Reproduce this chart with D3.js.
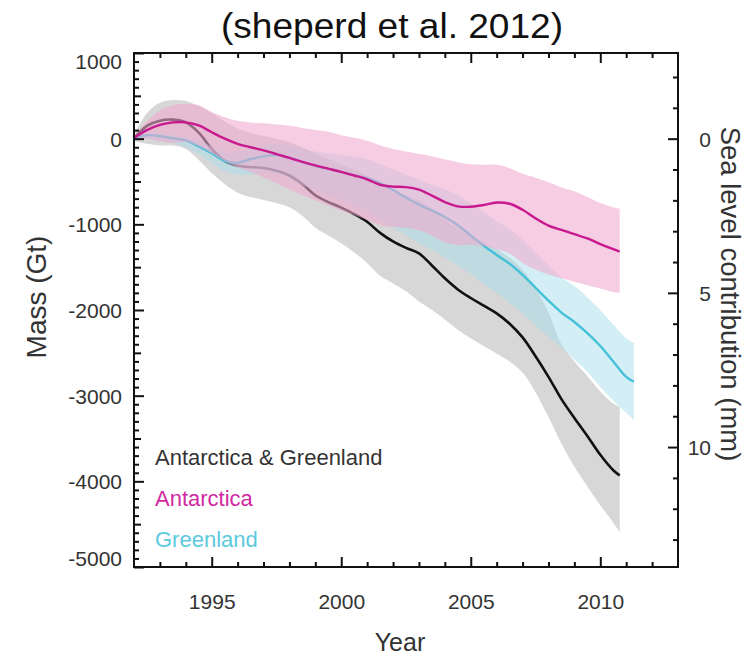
<!DOCTYPE html>
<html>
<head>
<meta charset="utf-8">
<script src="https://cdn.jsdelivr.net/npm/d3@7"></script>
<style>
  body { margin: 0; background: #fff; }
  svg { display: block; font-family: "Liberation Sans", Arial, Helvetica, sans-serif; }
</style>
</head>
<body>
<svg id="chart" width="755" height="657"></svg>
<script>
// Ice-sheet mass change (Gt) relative to 1992, with uncertainty envelopes.
const yearsAIS = [1992,1992.5,1993,1993.5,1994,1994.5,1995,1995.5,1996,1996.5,1997,1997.5,1998,1998.5,1999,1999.5,2000,2000.5,2001,2001.5,2002,2002.5,2003,2003.5,2004,2004.5,2005,2005.5,2006,2006.5,2007,2007.5,2008,2008.5,2009,2009.5,2010,2010.5,2010.75];
const yearsGrIS = [1992,1992.5,1993,1993.5,1994,1994.5,1995,1995.5,1996,1996.5,1997,1997.5,1998,1998.5,1999,1999.5,2000,2000.5,2001,2001.5,2002,2002.5,2003,2003.5,2004,2004.5,2005,2005.5,2006,2006.5,2007,2007.5,2008,2008.5,2009,2009.5,2010,2010.5,2011,2011.3];

// Antarctica & Greenland combined
const combinedMass = [0,150,210,222,190,70,-120,-260,-316,-330,-343,-375,-430,-530,-660,-740,-805,-880,-970,-1100,-1200,-1275,-1340,-1480,-1630,-1760,-1860,-1950,-2040,-2160,-2320,-2540,-2780,-3040,-3260,-3470,-3690,-3870,-3930];
const combinedHigh = [40,300,420,450,440,380,300,200,120,70,30,0,-40,-100,-170,-240,-300,-360,-430,-520,-600,-660,-720,-820,-940,-1050,-1130,-1210,-1290,-1390,-1530,-1740,-2030,-2400,-2600,-2770,-2950,-3090,-3131];
const combinedLow = [-30,-60,-80,-80,-120,-250,-400,-530,-630,-680,-715,-750,-800,-900,-1040,-1130,-1220,-1330,-1450,-1600,-1690,-1780,-1900,-2000,-2110,-2230,-2330,-2420,-2510,-2600,-2730,-2960,-3250,-3560,-3830,-4060,-4280,-4480,-4593];

// Antarctica
const antarcticaMass = [10,100,160,190,190,155,75,0,-60,-100,-137,-180,-225,-270,-312,-350,-388,-430,-475,-538,-560,-565,-595,-665,-740,-790,-795,-775,-745,-760,-830,-930,-1015,-1065,-1115,-1165,-1230,-1290,-1318];
const antarcticaHigh = [40,200,330,390,405,390,310,250,210,190,180,165,150,125,100,80,40,10,-25,-80,-120,-150,-180,-205,-240,-275,-300,-305,-305,-345,-410,-455,-510,-570,-615,-680,-750,-800,-819];
const antarcticaLow = [-20,0,-30,-50,-40,-90,-170,-260,-330,-390,-450,-520,-590,-660,-720,-780,-840,-890,-950,-1010,-1030,-1040,-1070,-1130,-1210,-1240,-1240,-1250,-1290,-1340,-1450,-1530,-1585,-1630,-1670,-1710,-1750,-1790,-1801];

// Greenland
const greenlandMass = [0,40,30,5,-20,-90,-170,-260,-280,-240,-207,-192,-225,-270,-320,-355,-390,-425,-460,-520,-600,-690,-770,-840,-915,-1010,-1130,-1250,-1357,-1460,-1590,-1740,-1890,-2030,-2140,-2270,-2420,-2600,-2780,-2838];
const greenlandHigh = [20,60,60,40,20,-20,-90,-160,-160,-120,-80,-60,-80,-120,-150,-170,-190,-210,-240,-300,-360,-420,-480,-540,-590,-660,-760,-860,-960,-1060,-1180,-1330,-1480,-1620,-1720,-1850,-2000,-2170,-2330,-2386];
const greenlandLow = [-20,0,-20,-50,-100,-180,-280,-380,-420,-420,-400,-410,-460,-540,-600,-660,-720,-780,-850,-950,-1040,-1130,-1220,-1300,-1380,-1480,-1580,-1700,-1800,-1920,-2040,-2180,-2310,-2440,-2580,-2720,-2900,-3060,-3200,-3287];

// Axis ticks and labels
const yearLabels = [1995, 2000, 2005, 2010];
const massLabels = [1000, 0, -1000, -2000, -3000, -4000, -5000];
const seaLevelLabels = [0, 5, 10];
const legendNames = ["Antarctica & Greenland", "Antarctica", "Greenland"];
const GT_PER_MM = 360;

const colors = {
  combined: "#111111", combinedBand: "#d7d7d7",
  antarctica: "#c8198f", antarcticaBand: "#f0a8cd",
  greenland: "#45c1d8", greenlandBand: "#aadded",
  legendCombined: "#333333", legendAntarctica: "#cf2aa0", legendGreenland: "#5cc9dd"
};

const svg = d3.select("#chart");
const plot = { left: 134, right: 678, top: 53, bottom: 567 };

const x = d3.scaleLinear().domain([1992, 2013]).range([plot.left, plot.right]);
const y = d3.scaleLinear().domain([-5000, 1000]).range([plot.bottom, plot.top]);
const ySea = d3.scaleLinear().domain([5000 / GT_PER_MM, -1000 / GT_PER_MM]).range([plot.bottom, plot.top]);

function rows(years, mid, lo, hi) {
  return years.map((t, i) => ({ t, m: mid[i], lo: lo[i], hi: hi[i] }));
}
const combined = rows(yearsAIS, combinedMass, combinedLow, combinedHigh);
const antarctica = rows(yearsAIS, antarcticaMass, antarcticaLow, antarcticaHigh);
const greenland = rows(yearsGrIS, greenlandMass, greenlandLow, greenlandHigh);

const curve = d3.curveCatmullRom.alpha(0.5);
const band = d3.area().x(d => x(d.t)).y0(d => y(d.lo)).y1(d => y(d.hi)).curve(curve);
const line = d3.line().x(d => x(d.t)).y(d => y(d.m)).curve(curve);

const g = svg.append("g");
// envelopes and central estimates, back to front
g.append("path").datum(combined).attr("d", band).attr("fill", colors.combinedBand);
g.append("path").datum(combined).attr("d", line).attr("fill", "none")
  .attr("stroke", colors.combined).attr("stroke-width", 2.6);
g.append("path").datum(greenland).attr("d", band).attr("fill", colors.greenlandBand).attr("fill-opacity", 0.5);
g.append("path").datum(greenland).attr("d", line).attr("fill", "none")
  .attr("stroke", colors.greenland).attr("stroke-width", 2.4);
g.append("path").datum(antarctica).attr("d", band).attr("fill", colors.antarcticaBand).attr("fill-opacity", 0.58);
g.append("path").datum(antarctica).attr("d", line).attr("fill", "none")
  .attr("stroke", colors.antarctica).attr("stroke-width", 2.4);

// frame
svg.append("rect")
  .attr("x", plot.left).attr("y", plot.top)
  .attr("width", plot.right - plot.left).attr("height", plot.bottom - plot.top)
  .attr("fill", "none").attr("stroke", "#111").attr("stroke-width", 2);

function styleAxis(sel) {
  sel.select(".domain").remove();
  sel.selectAll(".tick line").attr("stroke", "#111").attr("stroke-width", 2);
  sel.selectAll(".tick text").attr("fill", "#333").style("font-size", "21px");
}
const plain = d => String(d);

const minorYears = d3.range(1993, 2013).filter(v => v % 5 !== 0);
const minorMass = d3.range(-4900, 1000, 100).filter(v => v % 500 !== 0);
const midMass = d3.range(-4500, 1000, 1000);
const minorSea = d3.range(-2, 14).filter(v => v % 5 !== 0);

// bottom and top axes (inward ticks)
svg.append("g").attr("transform", `translate(0,${plot.bottom})`)
  .call(d3.axisBottom(x).tickValues(minorYears).tickSize(-5).tickFormat("")).call(styleAxis);
svg.append("g").attr("transform", `translate(0,${plot.bottom})`)
  .call(d3.axisBottom(x).tickValues(yearLabels).tickSize(-10).tickPadding(27).tickFormat(plain))
  .call(styleAxis);
svg.append("g").attr("transform", `translate(0,${plot.top})`)
  .call(d3.axisTop(x).tickValues(minorYears).tickSize(-5).tickFormat("")).call(styleAxis);
svg.append("g").attr("transform", `translate(0,${plot.top})`)
  .call(d3.axisTop(x).tickValues(yearLabels).tickSize(-10).tickFormat("")).call(styleAxis);

// left mass axis
svg.append("g").attr("transform", `translate(${plot.left},0)`)
  .call(d3.axisLeft(y).tickValues(minorMass).tickSize(-5).tickFormat("")).call(styleAxis);
svg.append("g").attr("transform", `translate(${plot.left},0)`)
  .call(d3.axisLeft(y).tickValues(midMass).tickSize(-7).tickFormat("")).call(styleAxis);
const leftAxis = svg.append("g").attr("transform", `translate(${plot.left},0)`)
  .call(d3.axisLeft(y).tickValues(massLabels).tickSize(-10).tickPadding(12).tickFormat(plain))
  .call(styleAxis);
leftAxis.selectAll(".tick text")
  .attr("dy", d => d === 1000 ? "0.72em" : d === -5000 ? "-0.08em" : "0.36em");

// right sea-level axis (mm)
svg.append("g").attr("transform", `translate(${plot.right},0)`)
  .call(d3.axisRight(ySea).tickValues(minorSea).tickSize(-5).tickFormat("")).call(styleAxis);
const rightAxis = svg.append("g").attr("transform", `translate(${plot.right},0)`)
  .call(d3.axisRight(ySea).tickValues(seaLevelLabels).tickSize(-10).tickPadding(33).tickFormat(plain))
  .call(styleAxis);
rightAxis.selectAll(".tick text").attr("text-anchor", "end").attr("dy", "0.36em");

// titles
svg.append("text").attr("transform", "translate(392,38) scale(1.06,1)").attr("text-anchor", "middle")
  .attr("fill", "#111").style("font-size", "35px").text("(sheperd et al. 2012)");
svg.append("text").attr("x", 400).attr("y", 651).attr("text-anchor", "middle")
  .attr("fill", "#333").style("font-size", "25px").text("Year");
svg.append("text").attr("transform", "translate(46,297) rotate(-90)").attr("text-anchor", "middle")
  .attr("fill", "#333").style("font-size", "28px").text("Mass (Gt)");
svg.append("text").attr("transform", "translate(721,294) rotate(90)").attr("text-anchor", "middle")
  .attr("fill", "#333").style("font-size", "27.5px").text("Sea level contribution (mm)");

// legend
const legendColors = [colors.legendCombined, colors.legendAntarctica, colors.legendGreenland];
svg.append("g").selectAll("text").data(legendNames).join("text")
  .attr("x", 155).attr("y", (d, i) => 465 + i * 41)
  .attr("fill", (d, i) => legendColors[i]).style("font-size", "22px").text(d => d);
</script>
</body>
</html>
